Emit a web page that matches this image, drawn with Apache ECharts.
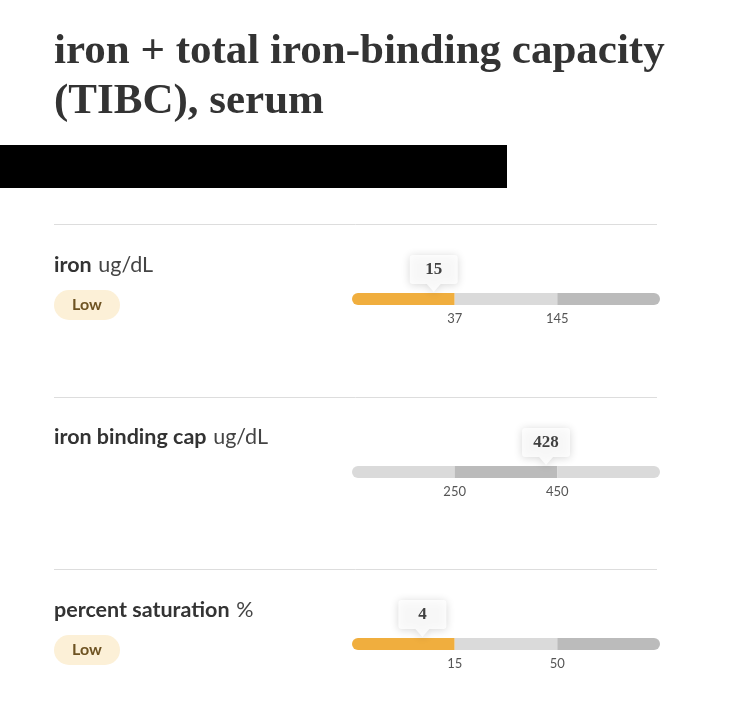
<!DOCTYPE html>
<html>
<head>
<meta charset="utf-8">
<script src="https://cdn.jsdelivr.net/npm/echarts@6/dist/echarts.min.js"></script>
<style>
  html, body { margin: 0; padding: 0; background: #ffffff; }
  #chart { width: 734px; height: 707px; }
</style>
</head>
<body>
<div id="chart"></div>
<script>
// ---- data ----
const titleLines = ['iron + total iron-binding capacity', '(TIBC), serum'];
const rowNames = ['iron', 'iron binding cap', 'percent saturation'];
const rowUnits = ['ug/dL', 'ug/dL', '%'];
const resultValues = [15, 428, 4];
const lowLimits = [37, 250, 15];
const highLimits = [145, 450, 50];
const resultFlags = ['Low', '', 'Low'];
const segmentTones = [
  ['flag', 'normal', 'dark'],
  ['normal', 'dark', 'normal'],
  ['flag', 'normal', 'dark']
];

// ---- styles / layout ----
const toneColors = { flag: '#F0AE3E', normal: '#DADADA', dark: '#BBBBBB' };
const barCenters = [299, 472, 644];
const labelMids = [268, 440, 613];
const pillCenters = [305, null, 650];
const dividerYs = [224, 397, 569];
const barLeft = 352, barRight = 660, barH = 12;

const chart = echarts.init(document.getElementById('chart'), null, { renderer: 'canvas' });

const grids = [], xAxes = [], yAxes = [], series = [], graphics = [];

rowNames.forEach((name, i) => {
  const lo = lowLimits[i], hi = highLimits[i];
  const span = hi - lo;
  const axMin = lo - span, axMax = hi + span;
  grids.push({ left: barLeft, right: 734 - barRight, top: barCenters[i] - barH / 2, height: barH });
  xAxes.push({
    type: 'value', gridIndex: i, min: axMin, max: axMax,
    axisLine: { show: false }, axisTick: { show: false }, splitLine: { show: false },
    axisLabel: {
      customValues: [lo, hi], margin: 7, color: '#555555',
      fontFamily: 'Lato', fontSize: 13
    }
  });
  yAxes.push({ type: 'value', gridIndex: i, min: -1, max: 1, show: false });

  const segs = [[axMin, lo], [lo, hi], [hi, axMax]];
  const tones = segmentTones[i];
  series.push({
    type: 'custom', xAxisIndex: i, yAxisIndex: i, silent: true, clip: false,
    data: segs,
    renderItem: function (params, api) {
      const s = api.coord([api.value(0), 0]);
      const e = api.coord([api.value(1), 0]);
      const k = params.dataIndex;
      const r = k === 0 ? [6, 0, 0, 6] : (k === segs.length - 1 ? [0, 6, 6, 0] : 0);
      return {
        type: 'rect',
        shape: { x: s[0], y: s[1] - barH / 2, width: e[0] - s[0], height: barH, r: r },
        style: { fill: toneColors[tones[k]] }
      };
    },
    z: 2
  });

  series.push({
    type: 'scatter', xAxisIndex: i, yAxisIndex: i, clip: false, silent: true,
    data: [[resultValues[i], 0]],
    symbol: 'path://M3,0 H45 Q48,0 48,3 V26 Q48,29 45,29 H31 L24,37 L17,29 H3 Q0,29 0,26 V3 Q0,0 3,0 Z',
    symbolSize: [48, 37],
    symbolOffset: [0, -25.5],
    itemStyle: { color: '#ffffff', shadowBlur: 9, shadowColor: 'rgba(0,0,0,0.2)', shadowOffsetY: 1 },
    label: {
      show: true, position: 'inside', offset: [0, -4],
      formatter: p => String(p.value[0]),
      color: '#111111', fontFamily: 'Liberation Serif', fontWeight: 'bold', fontSize: 17
    },
    z: 5
  });

  // row label
  graphics.push({
    type: 'text', left: 54, top: labelMids[i] - 14,
    style: {
      text: '{b|' + name + '}  {r|' + rowUnits[i] + '}',
      rich: {
        b: { fontFamily: 'Lato', fontWeight: 'bold', fontSize: 21.5, fill: '#333333', lineHeight: 28 },
        r: { fontFamily: 'Lato', fontWeight: 'normal', fontSize: 21.5, fill: '#444444', lineHeight: 28 }
      }
    }
  });

  if (resultFlags[i]) {
    graphics.push({
      type: 'rect', shape: { x: 54, y: pillCenters[i] - 15, width: 66, height: 30, r: 15 },
      style: { fill: '#FCF0D7' }
    });
    graphics.push({
      type: 'text', x: 87, y: pillCenters[i],
      style: {
        text: resultFlags[i], align: 'center', verticalAlign: 'middle',
        font: 'bold 16px Lato', fill: '#6E5322'
      }
    });
  }
});

dividerYs.forEach(y => {
  graphics.push({
    type: 'line', shape: { x1: 54, y1: y + 0.5, x2: 657, y2: y + 0.5 },
    style: { stroke: '#DDDDDD', lineWidth: 1 }
  });
});

// title
graphics.push({
  type: 'text', x: 54, y: 52,
  style: { text: titleLines[0], verticalAlign: 'middle', font: 'bold 43px "Liberation Serif"', fill: '#333333' }
});
graphics.push({
  type: 'text', x: 54, y: 102,
  style: { text: titleLines[1], verticalAlign: 'middle', font: 'bold 43px "Liberation Serif"', fill: '#333333' }
});
// redaction block
graphics.push({
  type: 'rect', shape: { x: 0, y: 145, width: 507, height: 43 },
  style: { fill: '#000000' }, z: 10
});

chart.setOption({
  animation: false,
  backgroundColor: '#ffffff',
  grid: grids,
  xAxis: xAxes,
  yAxis: yAxes,
  series: series,
  graphic: graphics
});
</script>
</body>
</html>
